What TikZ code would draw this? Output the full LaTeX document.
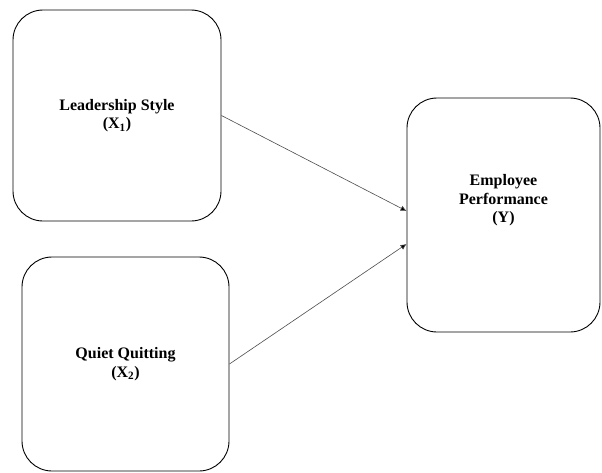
\documentclass[tikz,border=0pt]{standalone}
\usepackage{fontspec}
\setmainfont{Liberation Serif}
\usetikzlibrary{arrows.meta}
\usetikzlibrary{positioning}

\tikzset{
  varbox/.style={draw,rounded corners=30pt,line width=0.9pt,align=center,
    font=\bfseries\fontsize{16}{18.5}\selectfont,inner sep=0pt},
  link/.style={-{Latex[length=6pt,width=5.5pt,fill=black]},draw=black!70,line width=0.6pt}
}

\begin{document}
\begin{tikzpicture}[x=1pt,y=-1pt]
          \useasboundingbox (0,0) rectangle (602,472);
          \node[varbox,minimum width=208pt,minimum height=211pt] (leadership) at (117,115.5) {Leadership Style\\(X\textsubscript{1})};
          \node[varbox,minimum width=207pt,minimum height=214pt] (quiet) at (125.5,364) {Quiet Quitting\\(X\textsubscript{2})};
          \node[varbox,minimum width=193pt,minimum height=234pt] (performance) at (503.5,215) {Employee\\Performance\\(Y)\\[14pt]};
          \draw[link] (leadership.east) -- ([yshift=4pt]performance.west);
          \draw[link] (quiet.east) -- ([yshift=-29pt]performance.west);
        \end{tikzpicture}
\end{document}
